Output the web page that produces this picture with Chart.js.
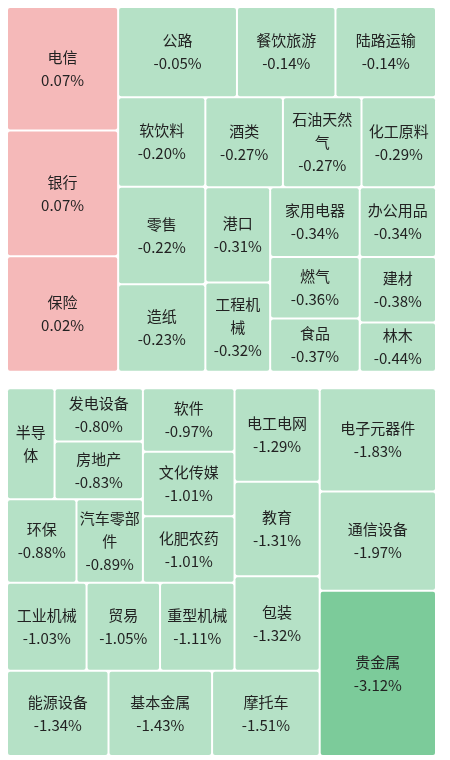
<!DOCTYPE html>
<html><head><meta charset="utf-8">
<script src="https://cdn.jsdelivr.net/npm/chart.js@4/dist/chart.umd.min.js"></script>
<style>html,body{margin:0;padding:0;background:#fff}#w{width:450px;height:760px}</style>
</head><body><div id="w"><canvas id="c"></canvas></div>
<script>
const names = ["电信","银行","保险","公路","餐饮旅游","陆路运输","软饮料","零售","造纸","酒类","石油天然气","化工原料","港口","工程机械","家用电器","办公用品","燃气","食品","建材","林木",
"半导体","发电设备","房地产","环保","汽车零部件","软件","文化传媒","化肥农药","工业机械","贸易","重型机械","电工电网","教育","包装","能源设备","基本金属","摩托车","电子元器件","通信设备","贵金属"];
const changes = [0.07,0.07,0.02,-0.05,-0.14,-0.14,-0.20,-0.22,-0.23,-0.27,-0.27,-0.29,-0.31,-0.32,-0.34,-0.34,-0.36,-0.37,-0.38,-0.44,
-0.80,-0.80,-0.83,-0.88,-0.89,-0.97,-1.01,-1.01,-1.03,-1.05,-1.11,-1.29,-1.31,-1.32,-1.34,-1.43,-1.51,-1.83,-1.97,-3.12];
const weights = [13176,13392,12312,10296,8536,8712,7480,8160,7310,6688,6776,6424,5922,5544,5984,5100,5280,4576,4800,3600,
5060,4524,4872,5576,5330,5580,5670,5850,6708,6192,6278,7636,7719,7719,8300,8466,8798,11526,11074,18419];
const tree = {d:'v',gap:true,c:[
 {d:'h',c:[{d:'v',c:["电信","银行","保险"]},
  {d:'v',c:[{d:'h',c:["公路","餐饮旅游","陆路运输"]},
   {d:'h',c:[{d:'v',c:["软饮料","零售","造纸"]},
    {d:'v',c:[{d:'h',c:["酒类","石油天然气","化工原料"]},
     {d:'h',c:[{d:'v',c:["港口","工程机械"]},
      {d:'v',c:[{d:'h',c:["家用电器","办公用品"]},
       {d:'h',c:[{d:'v',c:["燃气","食品"]},{d:'v',c:["建材","林木"]}]}]}]}]}]}]}]},
 {d:'h',c:[
  {d:'v',c:[
   {d:'h',c:[
    {d:'v',c:[
     {d:'h',c:[
      {d:'v',c:[{d:'h',c:["半导体",{d:'v',c:["发电设备","房地产"]}]},{d:'h',c:["环保","汽车零部件"]}]},
      {d:'v',c:["软件","文化传媒","化肥农药"]}]},
     {d:'h',c:["工业机械","贸易","重型机械"]}]},
    {d:'v',c:["电工电网","教育","包装"]}]},
   {d:'h',c:["能源设备","基本金属","摩托车"]}]},
  {d:'v',c:["电子元器件","通信设备","贵金属"]}]}
]};
function wOf(n){return typeof n==='string'?weights[names.indexOf(n)]:n.c.reduce((s,k)=>s+wOf(k),0);}
function layout(n,x0,y0,x1,y1,out){
  if(typeof n==='string'){out.push({n,x0,y0,x1,y1});return;}
  const tot=wOf(n);let p=n.d==='h'?x0:y0;const span=n.d==='h'?x1-x0:y1-y0;
  n.c.forEach((k,i)=>{const q=p+span*wOf(k)/tot;
    let a=p,b=q; if(n.gap){ if(i>0)a+=0.011; if(i<n.c.length-1)b-=0.011; }
    if(n.d==='h')layout(k,a,y0,b,y1,out);else layout(k,x0,a,x1,b,out);p=q;});
}
function color(v){
  if(v>0)return '#f5b9b9';
  if(v<=-3)return '#7ccb9a';
  return '#b5e1c6';
}
const cellPlugin={id:'cells',afterDatasetsDraw(ch){
  const ctx=ch.ctx,sx=ch.scales.x,sy=ch.scales.y,out=[];
  layout(tree,0,0,1,1,out);
  out.forEach(r=>{
    const i=names.indexOf(r.n);
    const X0=sx.getPixelForValue(r.x0)+1,X1=sx.getPixelForValue(r.x1)-1;
    const Y0=sy.getPixelForValue(r.y0)+1,Y1=sy.getPixelForValue(r.y1)-1;
    ctx.fillStyle=color(changes[i]);
    ctx.beginPath();ctx.roundRect(X0,Y0,X1-X0,Y1-Y0,2);ctx.fill();
    ctx.fillStyle='#222';ctx.textAlign='center';ctx.textBaseline='middle';
    ctx.font='15px "Noto Sans CJK SC"';
    const maxW=X1-X0-4;const lines=[];let cur='';
    for(const ch2 of r.n){if(ctx.measureText(cur+ch2).width>maxW&&cur){lines.push(cur);cur=ch2;}else cur+=ch2;}
    lines.push(cur);
    const val=changes[i].toFixed(2)+'%';
    const all=ctx.measureText(val).width>maxW?lines:lines.concat([val]);const lh=23;
    const cx=(X0+X1)/2,cy=(Y0+Y1)/2;
    all.forEach((t,k)=>ctx.fillText(t,cx,cy+(k-(all.length-1)/2)*lh));
  });
}};
new Chart(document.getElementById('c'),{type:'scatter',data:{datasets:[]},
 options:{responsive:true,maintainAspectRatio:false,animation:false,
  layout:{padding:{left:7,right:14,top:7,bottom:4}},
  plugins:{legend:{display:false},tooltip:{enabled:false}},
  scales:{x:{type:'linear',min:0,max:1,display:false},y:{type:'linear',min:0,max:1,reverse:true,display:false}}},
 plugins:[cellPlugin]});
</script></body></html>
